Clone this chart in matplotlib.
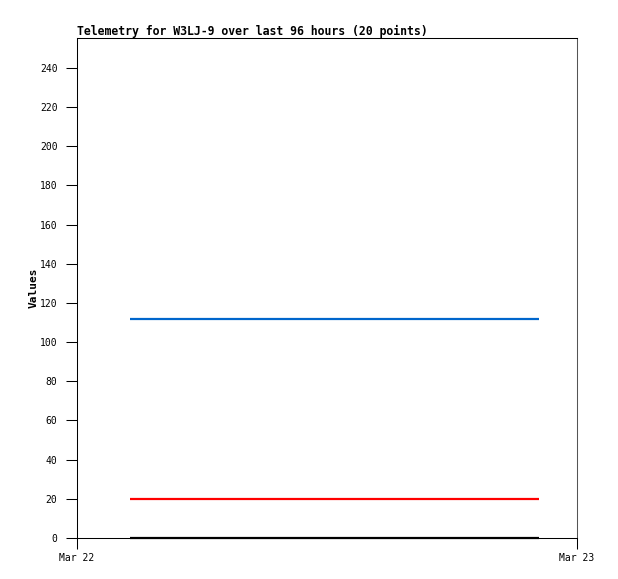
import matplotlib
matplotlib.use("Agg")
import matplotlib.pyplot as plt
import matplotlib.dates as mdates
from datetime import datetime

times = ["2024-03-22 02:33", "2024-03-22 03:36", "2024-03-22 04:39", "2024-03-22 05:42",
         "2024-03-22 06:45", "2024-03-22 07:48", "2024-03-22 08:51", "2024-03-22 09:54",
         "2024-03-22 10:57", "2024-03-22 12:00", "2024-03-22 13:03", "2024-03-22 14:06",
         "2024-03-22 15:09", "2024-03-22 16:12", "2024-03-22 17:15", "2024-03-22 18:18",
         "2024-03-22 19:21", "2024-03-22 20:24", "2024-03-22 21:27", "2024-03-22 22:10"]
series_blue = [112] * 20
series_red = [20] * 20
series_black = [0] * 20
x_ticks = ["2024-03-22 00:00", "2024-03-23 00:00"]
y_ticks = [0, 20, 40, 60, 80, 100, 120, 140, 160, 180, 200, 220, 240]

t = [datetime.strptime(s, "%Y-%m-%d %H:%M") for s in times]
xt = [datetime.strptime(s, "%Y-%m-%d %H:%M") for s in x_ticks]

plt.rcParams['font.family'] = ['DejaVu Sans Mono']
fig = plt.figure(figsize=(6.18, 5.79), dpi=100)
ax = fig.add_axes([77/618, 41/579, 500/618, 500/579])

ax.plot(t, series_blue, color="#0066cc", lw=1.6, solid_capstyle="butt")
ax.plot(t, series_red, color="#ff0000", lw=1.6, solid_capstyle="butt")
ax.plot(t, series_black, color="#000000", lw=1.6, solid_capstyle="butt", clip_on=False)

ax.set_xlim(xt[0], xt[1])
ax.set_ylim(0, 255.3)
ax.set_xticks(xt)
ax.xaxis.set_major_formatter(mdates.DateFormatter("%b %d"))
ax.set_yticks(y_ticks)
ax.tick_params(axis="both", direction="out", length=8, width=0.75, labelsize=7, pad=6)
ax.tick_params(axis="x", pad=3)

for side in ["left", "bottom", "top"]:
    ax.spines[side].set_color("black")
    ax.spines[side].set_linewidth(0.75)
ax.spines["right"].set_color("#555555")
ax.spines["right"].set_linewidth(0.75)

ax.set_ylabel("Values", fontsize=8, fontweight="bold", labelpad=1)
ax.set_title("Telemetry for W3LJ-9 over last 96 hours (20 points)", fontsize=8.3,
             fontweight="bold", loc="left", pad=2)

fig.savefig("out.png", dpi=100)
